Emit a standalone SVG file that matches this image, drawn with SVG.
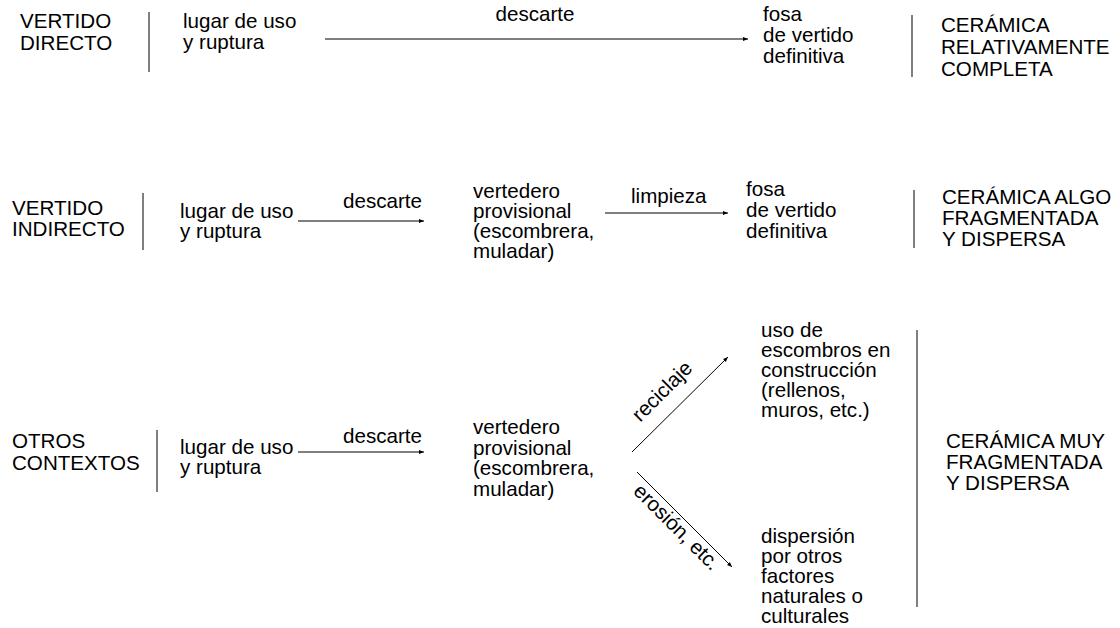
<svg xmlns="http://www.w3.org/2000/svg" width="1120" height="628" viewBox="0 0 1120 628">
<defs>
<style>
text{font-family:"Liberation Sans",Arial,sans-serif;font-size:20.6px;fill:#000}
.sep{stroke:#555;stroke-width:1.5;fill:none}
.conn{stroke:#000;stroke-width:1;fill:none;marker-end:url(#ah)}
</style>
<marker id="ah" viewBox="0 0 10 10" refX="10" refY="5" markerWidth="7" markerHeight="5" markerUnits="userSpaceOnUse" orient="auto">
<path d="M0,1 L10,5 L0,9 Z" fill="#000"/>
</marker>
</defs>
<rect width="1120" height="628" fill="#fff"/>
<g id="separators">
<line class="sep" x1="149" y1="12" x2="149" y2="72"/>
<line class="sep" x1="912" y1="15" x2="912" y2="77"/>
<line class="sep" x1="143" y1="193" x2="143" y2="250"/>
<line class="sep" x1="914" y1="190" x2="914" y2="248"/>
<line class="sep" x1="157" y1="430" x2="157" y2="492"/>
<line class="sep" x1="917" y1="330" x2="917" y2="607"/>
</g>
<g id="connectors">
<line class="conn" x1="325" y1="39" x2="748" y2="39"/>
<text x="535" y="21" text-anchor="middle">descarte</text>
<line class="conn" x1="298" y1="221" x2="424" y2="221"/>
<text x="343" y="208">descarte</text>
<line class="conn" x1="605" y1="213" x2="728" y2="213"/>
<text x="631" y="203">limpieza</text>
<line class="conn" x1="298" y1="452" x2="424" y2="452"/>
<text x="343" y="443">descarte</text>
<line class="conn" x1="632" y1="452" x2="728" y2="357"/>
<text transform="translate(667,396) rotate(-45)" text-anchor="middle">reciclaje</text>
<line class="conn" x1="637" y1="472" x2="732" y2="567"/>
<text transform="translate(672,532) rotate(45)" text-anchor="middle">erosión, etc.</text>
</g>
<g id="row1-label"><text x="20" y="28">VERTIDO<tspan x="20" dy="22">DIRECTO</tspan></text></g>
<g id="row1-lugar"><text x="183" y="28">lugar de uso<tspan x="183" dy="21">y ruptura</tspan></text></g>
<g id="row1-fosa"><text x="763" y="21">fosa<tspan x="763" dy="21">de vertido</tspan><tspan x="763" dy="21">definitiva</tspan></text></g>
<g id="row1-result"><text x="941" y="32">CERÁMICA<tspan x="941" dy="22">RELATIVAMENTE</tspan><tspan x="941" dy="22">COMPLETA</tspan></text></g>
<g id="row2-label"><text x="12" y="215">VERTIDO<tspan x="12" dy="21">INDIRECTO</tspan></text></g>
<g id="row2-lugar"><text x="180" y="218">lugar de uso<tspan x="180" dy="20">y ruptura</tspan></text></g>
<g id="row2-vertedero"><text x="473" y="198">vertedero<tspan x="473" dy="20">provisional</tspan><tspan x="473" dy="20">(escombrera,</tspan><tspan x="473" dy="20">muladar)</tspan></text></g>
<g id="row2-fosa"><text x="746" y="196">fosa<tspan x="746" dy="21">de vertido</tspan><tspan x="746" dy="21">definitiva</tspan></text></g>
<g id="row2-result"><text x="942" y="204">CERÁMICA ALGO<tspan x="942" dy="21">FRAGMENTADA</tspan><tspan x="942" dy="21">Y DISPERSA</tspan></text></g>
<g id="row3-label"><text x="12" y="448">OTROS<tspan x="12" dy="22">CONTEXTOS</tspan></text></g>
<g id="row3-lugar"><text x="180" y="454">lugar de uso<tspan x="180" dy="20">y ruptura</tspan></text></g>
<g id="row3-vertedero"><text x="473" y="434">vertedero<tspan x="473" dy="20.7">provisional</tspan><tspan x="473" dy="20.7">(escombrera,</tspan><tspan x="473" dy="20.7">muladar)</tspan></text></g>
<g id="row3-uso"><text x="761" y="337">uso de<tspan x="761" dy="20">escombros en</tspan><tspan x="761" dy="20">construcción</tspan><tspan x="761" dy="20">(rellenos,</tspan><tspan x="761" dy="20">muros, etc.)</tspan></text></g>
<g id="row3-dispersion"><text x="761" y="543">dispersión<tspan x="761" dy="20">por otros</tspan><tspan x="761" dy="20">factores</tspan><tspan x="761" dy="20">naturales o</tspan><tspan x="761" dy="20">culturales</tspan></text></g>
<g id="row3-result"><text x="946" y="448">CERÁMICA MUY<tspan x="946" dy="21">FRAGMENTADA</tspan><tspan x="946" dy="21">Y DISPERSA</tspan></text></g>
</svg>
